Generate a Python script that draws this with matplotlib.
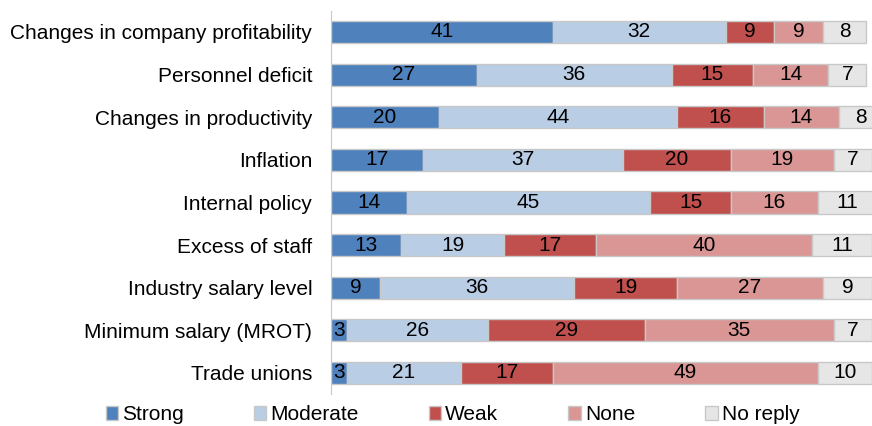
import numpy as np
import matplotlib.pyplot as plt
from matplotlib.patches import Patch

plt.rcParams['font.family'] = ['Liberation Sans', 'DejaVu Sans']

factors = ["Changes in company profitability", "Personnel deficit", "Changes in productivity",
           "Inflation", "Internal policy", "Excess of staff", "Industry salary level",
           "Minimum salary (MROT)", "Trade unions"]
series = ["Strong", "Moderate", "Weak", "None", "No reply"]
strong = [41, 27, 20, 17, 14, 13, 9, 3, 3]
moderate = [32, 36, 44, 37, 45, 19, 36, 26, 21]
weak = [9, 15, 16, 20, 15, 17, 19, 29, 17]
none = [9, 14, 14, 19, 16, 40, 27, 35, 49]
no_reply = [8, 7, 8, 7, 11, 11, 9, 7, 10]
colors = ["#4f81bd", "#b9cde5", "#c0504d", "#d99694", "#e6e6e6"]

data = [strong, moderate, weak, none, no_reply]

fig = plt.figure(figsize=(8.72, 4.26), dpi=100)
ax = fig.add_axes([0.3796, 0.0744, 0.62, 0.9006])

y = np.arange(len(factors))
left = np.zeros(len(factors))
for vals, name, c in zip(data, series, colors):
    vals = np.array(vals)
    ax.barh(y, vals, left=left, height=0.52, color=c, edgecolor="#c8c8c8", linewidth=1, label=name)
    for yi, (l, v) in enumerate(zip(left, vals)):
        ax.text(l + v / 2, yi, str(v), ha="center", va="center", fontsize=15, color="black")
    left += vals

ax.set_xlim(0, 100)
ax.set_ylim(len(factors) - 0.5, -0.5)
ax.set_yticks(y)
ax.set_yticklabels(factors, fontsize=15)
ax.set_xticks([])
for s in ["top", "right", "bottom"]:
    ax.spines[s].set_visible(False)
ax.spines["left"].set_color("#c8c8c8")
ax.tick_params(axis="y", length=0, pad=13.5)

handles = [Patch(facecolor=c, edgecolor="#c8c8c8") for c in colors]
fig.legend(handles, series, loc="lower center", bbox_to_anchor=(0.519, -0.04), ncol=5,
           frameon=False, fontsize=15, handlelength=0.6, handleheight=0.6,
           handletextpad=0.2, columnspacing=3.35)

fig.savefig("out.png", dpi=100)
